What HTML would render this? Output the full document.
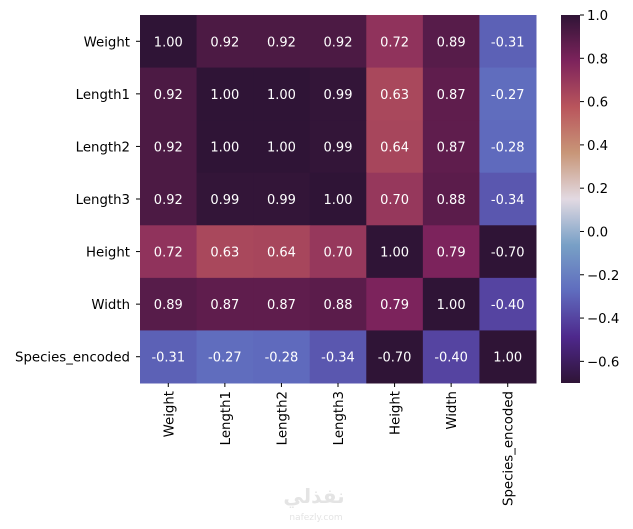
<!DOCTYPE html>
<html><head><meta charset="utf-8"><style>
body{margin:0;background:#fff;}
svg text{font-family:"DejaVu Sans","Liberation Sans",sans-serif;}
</style></head><body>
<svg id="c" width="633" height="524"></svg>
<script>
const labels=["Weight","Length1","Length2","Length3","Height","Width","Species_encoded"];
const row0=[1.00,0.92,0.92,0.92,0.72,0.89,-0.31];
const row1=[0.92,1.00,1.00,0.99,0.63,0.87,-0.27];
const row2=[0.92,1.00,1.00,0.99,0.64,0.87,-0.28];
const row3=[0.92,0.99,0.99,1.00,0.70,0.88,-0.34];
const row4=[0.72,0.63,0.64,0.70,1.00,0.79,-0.70];
const row5=[0.89,0.87,0.87,0.88,0.79,1.00,-0.40];
const row6=[-0.31,-0.27,-0.28,-0.34,-0.70,-0.40,1.00];
const matrix=[row0,row1,row2,row3,row4,row5,row6];
const cbTicks=[1.0,0.8,0.6,0.4,0.2,0.0,-0.2,-0.4,-0.6];
const vmin=-0.7,vmax=1.0;
const L=140,T=15,W=396,H=368;
const stops=[[0,[47,20,54]],[0.125,[78,40,140]],[0.25,[95,108,190]],[0.375,[120,160,198]],[0.5,[226,217,226]],[0.625,[200,150,120]],[0.75,[185,85,92]],[0.875,[125,35,92]],[1,[47,20,54]]];
function cmap(v){let t=Math.max(0,Math.min(1,(v-vmin)/(vmax-vmin)));for(let i=1;i<stops.length;i++){if(t<=stops[i][0]){const a=stops[i-1],b=stops[i];const f=(t-a[0])/(b[0]-a[0]);const c=a[1].map((x,k)=>Math.round(x+(b[1][k]-x)*f));return `rgb(${c[0]},${c[1]},${c[2]})`;}}return "rgb(47,20,54)";}
const n=labels.length,cw=W/n,ch=H/n;
const xs=i=>L+i*cw, ys=j=>T+j*ch;
const svg=document.getElementById('c');const NS="http://www.w3.org/2000/svg";
function el(tag,attrs,txt){const e=document.createElementNS(NS,tag);for(const k in attrs)e.setAttribute(k,attrs[k]);if(txt!=null)e.textContent=txt;svg.appendChild(e);return e;}
matrix.forEach((row,j)=>row.forEach((v,i)=>{
 const r=el('rect',{x:xs(i),y:ys(j),width:cw+0.5,height:ch+0.5,fill:cmap(v)});
 
 
 const t=el('text',{x:xs(i)+cw/2,y:ys(j)+ch/2+5,'text-anchor':'middle','font-size':'13',fill:'#fff'},v.toFixed(2));
 
 
}));
labels.forEach((lab,j)=>{
 const y=ys(j)+ch/2;
 el('line',{x1:L-4,x2:L,y1:y,y2:y,stroke:'#000','stroke-width':1});
 const t=el('text',{x:L-10,y:y+5,'text-anchor':'end','font-size':'13.3',fill:'#000'},lab);
 
 
 const x=xs(j)+cw/2;
 el('line',{x1:x,x2:x,y1:T+H,y2:T+H+4,stroke:'#000','stroke-width':1});
 const u=el('text',{x:x+5,y:T+H+8,'text-anchor':'end','font-size':'13.3',fill:'#000',transform:`rotate(-90 ${x+5} ${T+H+8})`},lab);
 
 
});
const CX=561,CW=19;
const cy=v=>T+(vmax-v)/(vmax-vmin)*H;
const defs=el('defs',{});const g=document.createElementNS(NS,'linearGradient');g.setAttribute('id','cg');g.setAttribute('x1','0');g.setAttribute('y1','1');g.setAttribute('x2','0');g.setAttribute('y2','0');defs.appendChild(g);
for(let k=0;k<=40;k++){const v=vmin+(vmax-vmin)*k/40;const s=document.createElementNS(NS,'stop');s.setAttribute('offset',k/40);s.setAttribute('stop-color',cmap(v));g.appendChild(s);}
const cb=el('rect',{x:CX,y:T,width:CW,height:H,fill:'url(#cg)'});


cbTicks.forEach(v=>{const y=cy(v);el('line',{x1:CX+CW,x2:CX+CW+4,y1:y,y2:y,stroke:'#000'});
 const t=el('text',{x:CX+CW+7,y:y+5,'font-size':'13.3',fill:'#000'},v.toFixed(1).replace('-','−'));
 
 });
const wm=el('text',{x:314,y:503,'text-anchor':'middle','font-size':'20','font-weight':'bold',fill:'#e4e4e4'},'نفذلي');


const wm2=el('text',{x:316,y:520,'text-anchor':'middle','font-size':'9',fill:'#e4e4e4'},'nafezly.com');


</script>
</body></html>
